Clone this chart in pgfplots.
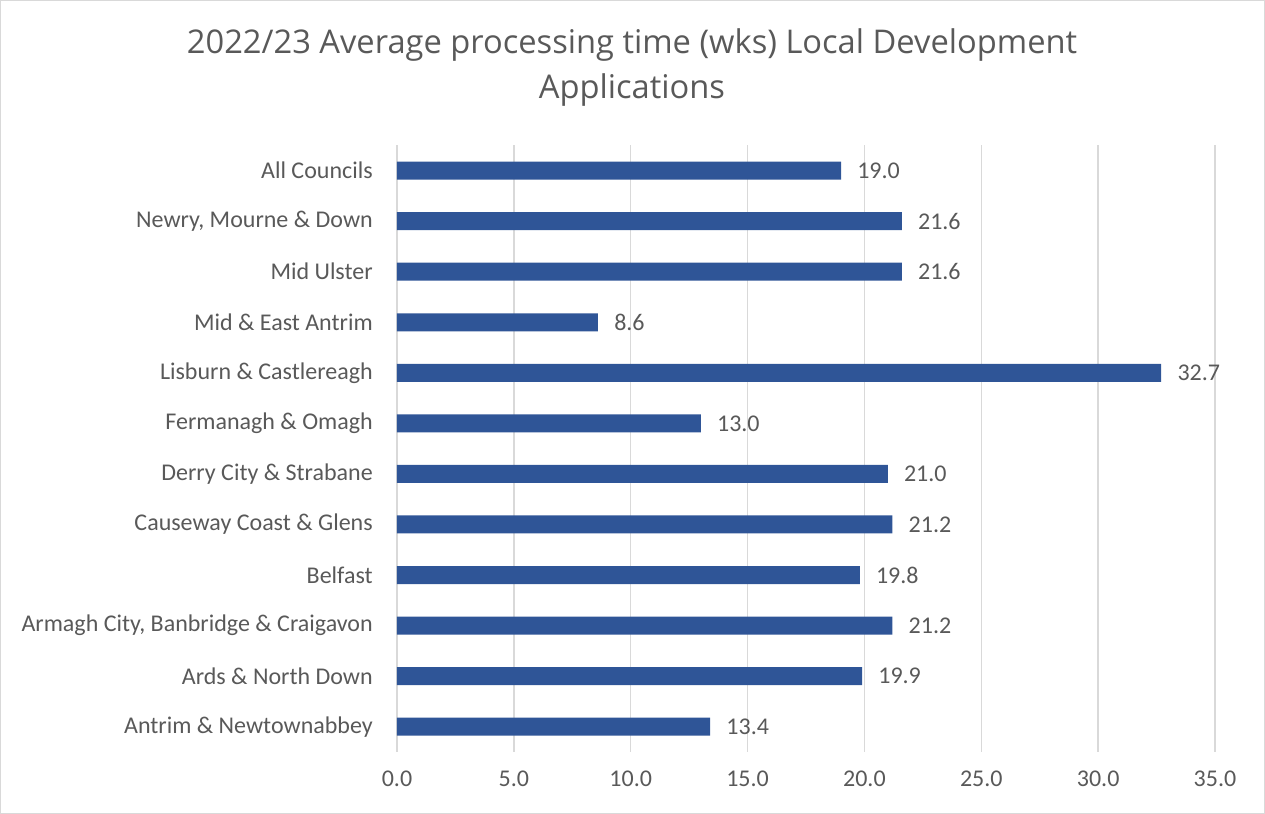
\documentclass[border=0pt]{standalone}
\usepackage{pgfplots}
\pgfplotsset{compat=1.18}
\usepackage{fontspec}
\setmainfont{Carlito}
\newfontfamily\titlefont{Open Sans}
\definecolor{barblue}{RGB}{47,85,151}
\definecolor{txtgray}{RGB}{89,89,89}
\definecolor{gridgray}{RGB}{217,217,217}
\begin{document}
\begin{tikzpicture}
\useasboundingbox (0pt,0pt) rectangle (948.75pt,610.5pt);
\draw[gridgray, line width=0.75pt] (0.375pt,0.375pt) rectangle (948.375pt,610.125pt);
\node[text=txtgray, align=center, font=\titlefont\fontsize{24.5}{33.75}\selectfont] at (474pt,559.5pt) {2022/23 Average processing time (wks) Local Development\\Applications};
\begin{axis}[
  at={(297.75pt,46.5pt)}, anchor=south west,
  scale only axis, width=613.5pt, height=455pt,
  xbar, bar width=0.356,
  xmin=0, xmax=35, ymin=-0.5, ymax=11.5,
  xtick={0,5,...,35},
  ytick={0,...,11},
  yticklabels={Antrim \& Newtownabbey, Ards \& North Down, {Armagh City, Banbridge \& Craigavon}, Belfast, Causeway Coast \& Glens, Derry City \& Strabane, Fermanagh \& Omagh, Lisburn \& Castlereagh, Mid \& East Antrim, Mid Ulster, {Newry, Mourne \& Down}, All Councils},
  axis line style={draw=none},
  major tick length=0pt,
  xmajorgrids, grid style={gridgray, line width=1pt},
  /pgf/number format/assume math mode=true,
  xticklabel={\pgfmathprintnumber[fixed,fixed zerofill,precision=1]{\tick}},
  xticklabel style={text=txtgray, font=\fontsize{18}{21}\selectfont, inner sep=0pt, yshift=-14pt},
  yticklabel style={text=txtgray, font=\fontsize{18}{21}\selectfont, inner sep=0pt, xshift=-18pt},
  nodes near coords,
  nodes near coords style={text=txtgray, font=\fontsize{18}{21}\selectfont, anchor=west, inner sep=0pt, xshift=12pt,
    /pgf/number format/.cd, fixed, fixed zerofill, precision=1, assume math mode=true},
  point meta=x,
  clip=false,
]
\addplot[fill=barblue, draw=none] coordinates {
(13.4,0) (19.9,1) (21.2,2) (19.8,3) (21.2,4) (21.0,5) (13.0,6) (32.7,7) (8.6,8) (21.6,9) (21.6,10) (19.0,11)
};
\end{axis}
\end{tikzpicture}
\end{document}
